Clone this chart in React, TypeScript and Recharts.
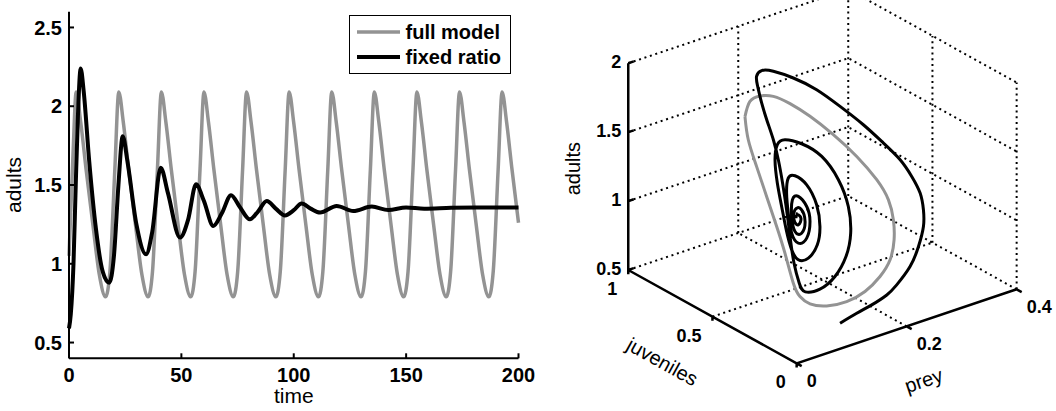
import React from 'react';
import { LineChart, ComposedChart, Line, XAxis, YAxis, Legend, Label } from 'recharts';

const FONT = '"Liberation Sans", Arial, Helvetica, sans-serif';

// ---- left panel: adults against time ----
const timeTicks = [0, 50, 100, 150, 200];
const adultTicks = [0.5, 1, 1.5, 2, 2.5];
const seriesNames = ['full model', 'fixed ratio'];

// [time, adults]
const fullModelSeries: [number, number][] = [
  [0, 1.05], [1.8, 1.7],
  [3.2, 2.09], [5.2, 1.9], [7.6, 1.6], [10.7, 1.24], [13.5, 0.93], [16.3, 0.79], [18.2, 0.95], [20.4, 1.6],
  [22.15, 2.09], [24.15, 1.9], [26.55, 1.6], [29.65, 1.24], [32.45, 0.93], [35.25, 0.79], [37.15, 0.95], [39.35, 1.6],
  [41.1, 2.09], [43.1, 1.9], [45.5, 1.6], [48.6, 1.24], [51.4, 0.93], [54.2, 0.79], [56.1, 0.95], [58.3, 1.6],
  [60.05, 2.09], [62.05, 1.9], [64.45, 1.6], [67.55, 1.24], [70.35, 0.93], [73.15, 0.79], [75.05, 0.95], [77.25, 1.6],
  [79, 2.09], [81, 1.9], [83.4, 1.6], [86.5, 1.24], [89.3, 0.93], [92.1, 0.79], [94, 0.95], [96.2, 1.6],
  [97.95, 2.09], [99.95, 1.9], [102.35, 1.6], [105.45, 1.24], [108.25, 0.93], [111.05, 0.79], [112.95, 0.95], [115.15, 1.6],
  [116.9, 2.09], [118.9, 1.9], [121.3, 1.6], [124.4, 1.24], [127.2, 0.93], [130, 0.79], [131.9, 0.95], [134.1, 1.6],
  [135.85, 2.09], [137.85, 1.9], [140.25, 1.6], [143.35, 1.24], [146.15, 0.93], [148.95, 0.79], [150.85, 0.95], [153.05, 1.6],
  [154.8, 2.09], [156.8, 1.9], [159.2, 1.6], [162.3, 1.24], [165.1, 0.93], [167.9, 0.79], [169.8, 0.95], [172, 1.6],
  [173.75, 2.09], [175.75, 1.9], [178.15, 1.6], [181.25, 1.24], [184.05, 0.93], [186.85, 0.79], [188.75, 0.95], [190.95, 1.6],
  [192.7, 2.09], [194.7, 1.9], [197.1, 1.6], [200, 1.26],
];

const fixedRatioSeries: [number, number][] = [
  [0, 0.59], [0.8, 0.68], [2, 1.0], [3, 1.5], [4, 1.95], [5.2, 2.24], [6.5, 2.1], [9, 1.65], [12, 1.22], [15, 0.95],
  [17.9, 0.88], [20, 1.05], [22, 1.5], [23.9, 1.81], [26, 1.65], [30, 1.25], [34.3, 1.06], [37, 1.2], [40.8, 1.61],
  [44, 1.45], [49.4, 1.166], [53, 1.28], [56.5, 1.504], [60, 1.4], [64.2, 1.24], [68, 1.32], [72.1, 1.435],
  [76, 1.36], [80.5, 1.282], [84, 1.33], [88, 1.398], [92, 1.35], [96.1, 1.307], [100, 1.34], [103.5, 1.382],
  [107.5, 1.35], [111.7, 1.325], [119.1, 1.367], [126.5, 1.335], [134.7, 1.363], [142.1, 1.341], [150, 1.357],
  [158, 1.35], [170, 1.355], [185, 1.357], [200, 1.357],
];

// ---- right panel: 3-D phase portrait ----
const preyTicks3D = [0, 0.2, 0.4];
const juvTicks3D = [0, 0.5, 1];
const adultTicks3D = [0.5, 1, 1.5, 2];

// trajectories: [horizontal, vertical] in adults units
const fullModelPhase: [number, number][] = [
  [-0.375, 2.29], [-0.339, 2.4], [-0.266, 2.44], [-0.169, 2.437], [-0.048, 2.384], [0.097, 2.292], [0.266, 2.159],
  [0.436, 2.001], [0.581, 1.832], [0.666, 1.686], [0.702, 1.541], [0.707, 1.396], [0.678, 1.251], [0.605, 1.13],
  [0.496, 1.021], [0.363, 0.948], [0.218, 0.916], [0.097, 0.931], [0.024, 0.984], [-0.024, 1.081], [-0.085, 1.299],
  [-0.145, 1.493], [-0.218, 1.711], [-0.291, 1.929], [-0.351, 2.122], [-0.375, 2.29],
];

const fixedRatioPhase: [number, number][] = [
  [0.315, 0.791], [0.436, 0.863], [0.545, 0.924], [0.654, 0.996], [0.726, 1.069], [0.823, 1.202], [0.884, 1.347],
  [0.92, 1.493], [0.92, 1.614], [0.896, 1.735], [0.835, 1.856], [0.751, 1.977], [0.63, 2.098], [0.484, 2.231],
  [0.315, 2.364], [0.145, 2.485], [-0.024, 2.57], [-0.169, 2.619], [-0.254, 2.624], [-0.291, 2.582], [-0.283, 2.51],
  [-0.254, 2.389], [-0.213, 2.255], [-0.169, 2.122], [-0.133, 1.977], [-0.102, 1.807], [-0.073, 1.614],
  [-0.048, 1.42], [-0.019, 1.226], [0.019, 1.081], [0.063, 1.018], [0.169, 1.038], [0.278, 1.13], [0.358, 1.275],
  [0.392, 1.444], [0.375, 1.638], [0.303, 1.832], [0.182, 2.001], [0.036, 2.093], [-0.085, 2.122], [-0.14, 2.086],
  [-0.157, 1.977], [-0.14, 1.807], [-0.109, 1.638], [-0.073, 1.456], [-0.036, 1.323], [0.012, 1.251], [0.085, 1.263],
  [0.15, 1.36], [0.169, 1.493], [0.145, 1.65], [0.073, 1.795], [-0.012, 1.861], [-0.061, 1.844], [-0.073, 1.735],
  [-0.061, 1.59], [-0.036, 1.444], [0.012, 1.372], [0.073, 1.408], [0.097, 1.529], [0.073, 1.638], [0.012, 1.711],
  [-0.031, 1.686], [-0.036, 1.565], [-0.012, 1.456], [0.036, 1.444], [0.061, 1.529], [0.031, 1.619], [-0.012, 1.614],
  [-0.019, 1.541], [0.012, 1.505], [0.031, 1.553], [0.005, 1.577], [-0.005, 1.553],
];

const blackText = { fill: '#000', fontFamily: FONT };
const tickFont = { ...blackText, fontSize: 20, fontWeight: 700 };
const titleFont = { ...blackText, fontSize: 21, fontWeight: 400 };
const frame = { stroke: '#000', strokeWidth: 2 };

const lineWidths: Record<string, number> = { 'full model': 3.5, 'fixed ratio': 4 };

const LegendBox = ({ payload }: any) => {
  const items = [...(payload || [])].sort((a: any, b: any) => seriesNames.indexOf(a.value) - seriesNames.indexOf(b.value));
  return (
    <div style={{ border: '1.5px solid #000', background: '#fff', width: 162, height: 59, boxSizing: 'border-box',
      padding: '3.5px 0 0 6.5px', fontFamily: FONT, fontWeight: 700, fontSize: 20, color: '#000' }}>
      {items.map((entry: any) => (
        <div key={entry.value} style={{ display: 'flex', alignItems: 'center', height: 25 }}>
          <svg width={43} height={8}>
            <line x1={0} x2={43} y1={4} y2={4} stroke={entry.color} strokeWidth={lineWidths[entry.value]} />
          </svg>
          <span style={{ marginLeft: 6, lineHeight: '25px' }}>{entry.value}</span>
        </div>
      ))}
    </div>
  );
};

const TimeSeries = () => {
  const fullRows = fullModelSeries.map(([t, adults]) => ({ t, adults }));
  const fixedRows = fixedRatioSeries.map(([t, adults]) => ({ t, adults }));
  return (
    <LineChart width={560} height={411} margin={{ top: 11.7, right: 41.5, bottom: 0, left: 0 }}>
      <XAxis type="number" dataKey="t" domain={[0, 200]} ticks={timeTicks} interval={0} height={52.7}
        tickSize={-5} tickMargin={14.5} axisLine={frame} tickLine={frame} tick={tickFont}>
        <Label value="time" position="insideBottom" offset={8} style={titleFont} />
      </XAxis>
      <XAxis xAxisId="top" orientation="top" type="number" domain={[0, 200]} ticks={timeTicks} interval={0}
        height={0} tickSize={-5} axisLine={frame} tickLine={frame} tick={false} />
      <YAxis type="number" domain={[0.4, 2.6]} ticks={adultTicks} interval={0} width={69}
        tickSize={-5} tickMargin={12} axisLine={frame} tickLine={frame} tick={tickFont}>
        <Label value="adults" angle={-90} position="insideLeft" offset={14} style={{ ...titleFont, textAnchor: 'middle' }} />
      </YAxis>
      <YAxis yAxisId="right" orientation="right" type="number" domain={[0.4, 2.6]} ticks={adultTicks} interval={0}
        width={0} tickSize={-5} axisLine={frame} tickLine={frame} tick={false} />
      <Legend content={<LegendBox />} layout="horizontal" verticalAlign="middle" align="center"
        wrapperStyle={{ left: 349, top: 15, width: 162, height: 59 }} />
      <Line name="full model" data={fullRows} dataKey="adults" type="monotone" stroke="#939393" strokeWidth={3.5}
        dot={false} activeDot={false} isAnimationActive={false} />
      <Line name="fixed ratio" data={fixedRows} dataKey="adults" type="monotone" stroke="#000" strokeWidth={4}
        dot={false} activeDot={false} isAnimationActive={false} />
    </LineChart>
  );
};

// oblique view of (prey, juveniles, adults) onto the page plane
const project = (prey: number, juv: number, adults: number) => ({
  h: prey * 3.991 - juv * 1.222,
  v: adults + prey * 1.3425 + juv * 0.677,
});

const segmentsToRows = (segs: [number, number, number][][]) => {
  const rows: { h: number | null; v: number | null }[] = [];
  segs.forEach((seg) => {
    seg.forEach(([p, j, a]) => rows.push(project(p, j, a)));
    rows.push({ h: null, v: null });
  });
  return rows;
};

const labelLayout: Record<string, { dx: number; dy: number; anchor: string; rotate: number; size: number; weight: number; central: boolean }> = {
  adults: { dx: -7, dy: 4.5, anchor: 'end', rotate: 0, size: 18, weight: 700, central: false },
  juv: { dx: -11, dy: 25, anchor: 'end', rotate: 0, size: 18, weight: 700, central: false },
  prey: { dx: 10, dy: 24, anchor: 'start', rotate: 0, size: 18, weight: 700, central: false },
  adultsTitle: { dx: -55, dy: 2, anchor: 'middle', rotate: -90, size: 20, weight: 400, central: true },
  juvTitle: { dx: -50, dy: 45, anchor: 'middle', rotate: 29, size: 20, weight: 400, central: true },
  preyTitle: { dx: 17, dy: 54, anchor: 'middle', rotate: -18.6, size: 20, weight: 400, central: true },
};

const renderAxisText = (props: any) => {
  const { cx, cy, payload, index } = props;
  const s = labelLayout[payload.kind];
  const x = cx + s.dx;
  const y = cy + s.dy;
  return (
    <text key={index} x={x} y={y} textAnchor={s.anchor} dominantBaseline={s.central ? 'central' : 'auto'}
      transform={s.rotate ? `rotate(${s.rotate} ${x} ${y})` : undefined}
      fontFamily={FONT} fontSize={s.size} fontWeight={s.weight} fill="#000">
      {payload.text}
    </text>
  );
};

const PhasePortrait = () => {
  const pMax = preyTicks3D[preyTicks3D.length - 1];
  const jMax = juvTicks3D[juvTicks3D.length - 1];
  const aMin = adultTicks3D[0];
  const aMax = adultTicks3D[adultTicks3D.length - 1];

  const gridSegs: [number, number, number][][] = [];
  juvTicks3D.filter((j) => j > 0).forEach((j) => gridSegs.push([[0, j, aMin], [pMax, j, aMin]]));
  preyTicks3D.filter((p) => p > 0).forEach((p) => {
    gridSegs.push([[p, 0, aMin], [p, jMax, aMin]]);
    gridSegs.push([[p, jMax, aMin], [p, jMax, aMax]]);
  });
  juvTicks3D.filter((j) => j < jMax).forEach((j) => gridSegs.push([[pMax, j, aMin], [pMax, j, aMax]]));
  adultTicks3D.filter((a) => a > aMin).forEach((a) => {
    gridSegs.push([[0, jMax, a], [pMax, jMax, a], [pMax, 0, a]]);
  });

  const axisSegs: [number, number, number][][] = [
    [[0, jMax, aMin], [0, jMax, aMax]],
    [[0, jMax, aMin], [0, 0, aMin], [pMax, 0, aMin]],
  ];
  adultTicks3D.forEach((a) => axisSegs.push([[0, jMax, a], [0.01, jMax, a]]));
  juvTicks3D.forEach((j) => axisSegs.push([[0, j, aMin], [0, j, aMin - 0.03]]));
  preyTicks3D.forEach((p) => axisSegs.push([[p, 0, aMin], [p, -0.03, aMin]]));

  const textRows = [
    ...adultTicks3D.map((a) => ({ ...project(0, jMax, a), text: String(a), kind: 'adults' })),
    ...juvTicks3D.map((j) => ({ ...project(0, j, aMin), text: String(j), kind: 'juv' })),
    ...preyTicks3D.map((p) => ({ ...project(p, 0, aMin), text: String(p), kind: 'prey' })),
    { ...project(0, jMax, (aMin + aMax) / 2), text: 'adults', kind: 'adultsTitle' },
    { ...project(0, jMax / 2, aMin), text: 'juveniles', kind: 'juvTitle' },
    { ...project(pMax / 2, 0, aMin), text: 'prey', kind: 'preyTitle' },
  ];

  const fullRows = fullModelPhase.map(([h, v]) => ({ h, v }));
  const fixedRows = fixedRatioPhase.map(([h, v]) => ({ h, v }));

  return (
    <ComposedChart width={526} height={411} margin={{ top: 0, right: 0, bottom: 0, left: 0 }}>
      <XAxis type="number" dataKey="h" domain={[-1.935, 1.882]} hide allowDataOverflow height={0} />
      <YAxis type="number" dataKey="v" domain={[0.154, 3.136]} hide allowDataOverflow width={0} />
      <Line data={segmentsToRows(gridSegs)} dataKey="v" type="linear" stroke="#000" strokeWidth={2}
        strokeDasharray="2 3.7" dot={false} activeDot={false} isAnimationActive={false} />
      <Line data={fullRows} dataKey="v" type="natural" stroke="#939393" strokeWidth={3}
        dot={false} activeDot={false} isAnimationActive={false} />
      <Line data={fixedRows} dataKey="v" type="natural" stroke="#000" strokeWidth={3}
        dot={false} activeDot={false} isAnimationActive={false} />
      <Line data={segmentsToRows(axisSegs)} dataKey="v" type="linear" stroke="#000" strokeWidth={2.5}
        dot={false} activeDot={false} isAnimationActive={false} />
      <Line data={textRows} dataKey="v" stroke="none" dot={renderAxisText} activeDot={false} isAnimationActive={false} />
    </ComposedChart>
  );
};

export default function App() {
  return (
    <div style={{ position: 'absolute', left: 0, top: 0, width: 1056, height: 411, background: '#fff', overflow: 'hidden' }}>
      <div style={{ position: 'absolute', left: 0, top: 0 }}>
        <TimeSeries />
      </div>
      <div style={{ position: 'absolute', left: 530, top: 0 }}>
        <PhasePortrait />
      </div>
    </div>
  );
}
